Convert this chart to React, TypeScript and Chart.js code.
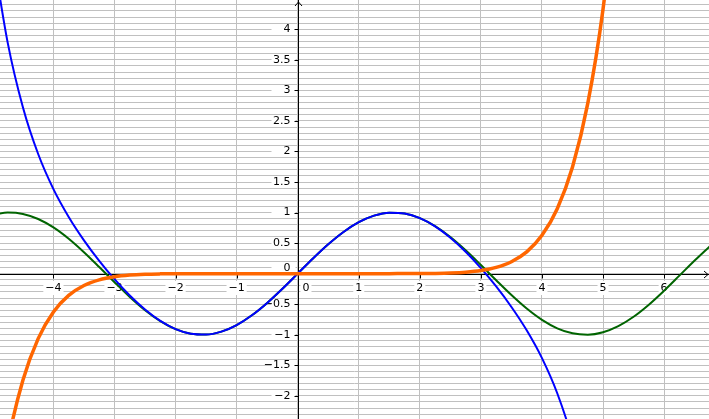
import React, { useEffect, useRef } from "react";
import { Chart, registerables } from "chart.js";

Chart.register(...registerables);

// ---- data ----
const xValues = [
  -5, -4.75, -4.5, -4.25, -4, -3.75, -3.5, -3.25, -3, -2.75, -2.5, -2.25, -2, -1.75, -1.5, -1.25,
  -1, -0.75, -0.5, -0.25, 0, 0.25, 0.5, 0.75, 1, 1.25, 1.5, 1.75, 2, 2.25, 2.5, 2.75, 3, 3.25,
  3.5, 3.75, 4, 4.25, 4.5, 4.75, 5, 5.25, 5.5, 5.75, 6, 6.25, 6.5, 6.75,
];

// blue curve
const blueValues: (number | null)[] = [
  5.2927, 3.7864, 2.7242, 1.9587, 1.3841, 0.9284, 0.5456, 0.2097, -0.0911, -0.3585, -0.5885,
  -0.7742, -0.9079, -0.9836, -0.9974, -0.949, -0.8415, -0.6816, -0.4794, -0.2474, 0, 0.2474,
  0.4794, 0.6816, 0.8415, 0.949, 0.9974, 0.9836, 0.9079, 0.7742, 0.5885, 0.3585, 0.0911,
  -0.2097, -0.5456, -0.9284, -1.3841, -1.9587, -2.7242, -3.7864, -5.2927, null, null, null,
  null, null, null, null,
];

// green curve
const greenValues: (number | null)[] = [
  0.9589, 0.9993, 0.9775, 0.895, 0.7568, 0.5716, 0.3508, 0.1082, -0.1411, -0.3817, -0.5985,
  -0.7781, -0.9093, -0.984, -0.9975, -0.949, -0.8415, -0.6816, -0.4794, -0.2474, 0, 0.2474,
  0.4794, 0.6816, 0.8415, 0.949, 0.9975, 0.984, 0.9093, 0.7781, 0.5985, 0.3817, 0.1411,
  -0.1082, -0.3508, -0.5716, -0.7568, -0.895, -0.9775, -0.9993, -0.9589, -0.8589, -0.7055,
  -0.5082, -0.2794, -0.0332, 0.2151, 0.45,
];

// orange curve
const orangeValues: (number | null)[] = [
  -4.3337, -2.7871, -1.7467, -1.0637, -0.6273, -0.3568, -0.1948, -0.1015, -0.0501, -0.0232,
  -0.0099, -0.0039, -0.0014, -0.0004, -0.0001, 0, 0, 0, 0, 0, 0, 0, 0, 0, 0, 0, 0.0001,
  0.0004, 0.0014, 0.0039, 0.0099, 0.0232, 0.0501, 0.1015, 0.1948, 0.3568, 0.6273, 1.0637,
  1.7467, 2.7871, 4.3337, 6.583, null, null, null, null, null, null,
];

const xTickValues = [-4, -3, -2, -1, 0, 1, 2, 3, 4, 5, 6];
const xTickLabels = ["\u22124", "\u22123", "\u22122", "\u22121", "0", "1", "2", "3", "4", "5", "6"];
const yTickValues = [-2, -1.5, -1, -0.5, 0, 0.5, 1, 1.5, 2, 2.5, 3, 3.5, 4];
const yTickLabels = [
  "\u22122", "\u22121.5", "\u22121", "\u22120.5", "0", "0.5", "1", "1.5", "2", "2.5", "3", "3.5", "4",
];

const X_MIN = -4.875;
const X_MAX = 6.735;
const Y_MIN = -2.38;
const Y_MAX = 4.48;

const FONT = '11px "DejaVu Sans", sans-serif';

const axesPlugin = {
  id: "ggbAxes",
  beforeDatasetsDraw(chart: any) {
    const { ctx } = chart;
    const xs = chart.scales.x;
    const ys = chart.scales.y;
    const ox = Math.round(xs.getPixelForValue(0)) + 0.5;
    const oy = Math.round(ys.getPixelForValue(0)) + 0.5;
    const W = chart.width;

    ctx.save();
    ctx.font = FONT;
    ctx.textBaseline = "middle";

    // x labels
    xTickValues.forEach((v, i) => {
      const label = xTickLabels[i];
      const w = ctx.measureText(label).width;
      const px = xs.getPixelForValue(v);
      let left: number;
      if (v === 0) left = ox + 4;
      else left = px - w / 2;
      const cy = oy + 13.5;
      ctx.fillStyle = "#ffffff";
      ctx.fillRect(left - 2, cy - 7, w + 4, 14);
      ctx.fillStyle = "#000000";
      ctx.textAlign = "left";
      ctx.fillText(label, left, cy);
    });

    // y labels
    yTickValues.forEach((v, i) => {
      const label = yTickLabels[i];
      const py = v === 0 ? oy - 6.5 : ys.getPixelForValue(v);
      ctx.fillStyle = "#ffffff";
      ctx.fillRect(ox - 27, py - 5, 24, 10);
      ctx.fillStyle = "#000000";
      ctx.textAlign = "right";
      ctx.fillText(label, ox - 8, py);
    });

    // axes
    ctx.strokeStyle = "#000000";
    ctx.lineWidth = 1;
    ctx.beginPath();
    ctx.moveTo(0, oy);
    ctx.lineTo(W, oy);
    ctx.moveTo(ox, 0);
    ctx.lineTo(ox, chart.height);
    // ticks
    xTickValues.forEach((v) => {
      if (v === 0) return;
      const px = Math.round(xs.getPixelForValue(v)) + 0.5;
      ctx.moveTo(px, oy);
      ctx.lineTo(px, oy + 4);
    });
    yTickValues.forEach((v) => {
      if (v === 0) return;
      const py = Math.round(ys.getPixelForValue(v)) + 0.5;
      ctx.moveTo(ox - 4, py);
      ctx.lineTo(ox, py);
    });
    ctx.stroke();

    // arrows
    ctx.beginPath();
    ctx.moveTo(ox - 3.5, 6);
    ctx.lineTo(ox, 2);
    ctx.lineTo(ox + 3.5, 6);
    ctx.moveTo(W - 5, oy - 3.5);
    ctx.lineTo(W - 1, oy);
    ctx.lineTo(W - 5, oy + 3.5);
    ctx.stroke();
    ctx.restore();
  },
};

function toPoints(vals: (number | null)[]) {
  return xValues.map((x, i) => ({ x, y: vals[i] }));
}

export default function App() {
  const ref = useRef<HTMLCanvasElement>(null);

  useEffect(() => {
    document.body.style.margin = "0";
    const canvas = ref.current;
    if (!canvas) return;
    const chart = new Chart(canvas, {
      type: "scatter",
      data: {
        datasets: [
          {
            label: "orange",
            data: toPoints(orangeValues) as any,
            showLine: true,
            borderColor: "rgb(255,102,0)",
            borderWidth: 3.5,
            pointRadius: 0,
            cubicInterpolationMode: "monotone",
            spanGaps: false,
          },
          {
            label: "blue",
            data: toPoints(blueValues) as any,
            showLine: true,
            borderColor: "#0000ff",
            borderWidth: 2,
            pointRadius: 0,
            cubicInterpolationMode: "monotone",
            spanGaps: false,
          },
          {
            label: "green",
            data: toPoints(greenValues) as any,
            showLine: true,
            borderColor: "#006400",
            borderWidth: 2,
            pointRadius: 0,
            cubicInterpolationMode: "monotone",
            spanGaps: false,
          },
        ],
      },
      options: {
        animation: false,
        responsive: false,
        events: [],
        layout: { padding: 0 },
        plugins: { legend: { display: false }, tooltip: { enabled: false } },
        scales: {
          x: {
            type: "linear",
            min: X_MIN,
            max: X_MAX,
            border: { display: false },
            ticks: { display: false },
            grid: { color: "#c0c0c0", lineWidth: 1, drawTicks: false },
            afterBuildTicks: (s: any) => {
              const t = [];
              for (let i = -4; i <= 6; i++) t.push({ value: i });
              s.ticks = t;
            },
          },
          y: {
            type: "linear",
            min: Y_MIN,
            max: Y_MAX,
            border: { display: false },
            ticks: { display: false },
            grid: { color: "#c0c0c0", lineWidth: 1, drawTicks: false },
            afterBuildTicks: (s: any) => {
              const t = [];
              for (let i = -23; i <= 44; i++) t.push({ value: i / 10 });
              s.ticks = t;
            },
          },
        },
      },
      plugins: [axesPlugin],
    });
    return () => chart.destroy();
  }, []);

  return (
    <div style={{ position: "fixed", left: 0, top: 0, width: 709, height: 419, background: "#fff" }}>
      <canvas ref={ref} width={709} height={419} style={{ display: "block" }} />
    </div>
  );
}
